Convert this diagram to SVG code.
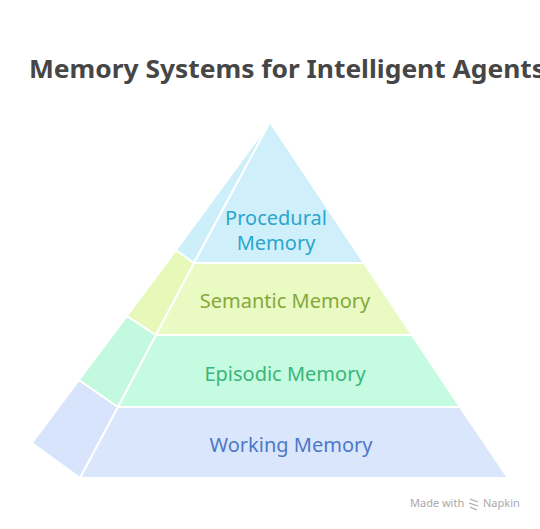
<svg xmlns="http://www.w3.org/2000/svg" width="540" height="529" viewBox="0 0 540 529">
<style>
.face{stroke:#ffffff;stroke-width:2;stroke-linejoin:round}
.lbl{font-family:"Noto Sans","Open Sans",sans-serif;font-size:20px;text-anchor:middle}
.title{font-family:"Noto Sans","Liberation Sans",sans-serif;font-weight:bold;font-size:25px;fill:#464646}
.wm{font-family:"Noto Sans","Liberation Sans",sans-serif;font-size:11px;fill:#a8a8a8}
</style>
<rect width="540" height="529" fill="#ffffff"/>
<text class="title" x="29" y="78" textLength="516" lengthAdjust="spacingAndGlyphs">Memory Systems for Intelligent Agents</text>
<g id="working">
<polygon class="face" points="79,380 118,407 80,478 32,443" fill="#d8e4fb"/>
<polygon class="face" points="118,407 460,407 508,478 80,478" fill="#dae6fc"/>
<text class="lbl" x="291" y="452" fill="#4c78c8">Working Memory</text>
</g>
<g id="episodic">
<polygon class="face" points="127,316 156,335 118,407 79,380" fill="#c3f9de"/>
<polygon class="face" points="156,335 412,335 460,407 118,407" fill="#c5fbe0"/>
<text class="lbl" x="285" y="381" fill="#3bb57a">Episodic Memory</text>
</g>
<g id="semantic">
<polygon class="face" points="176,250 194,263 156,335 127,316" fill="#e6f9b9"/>
<polygon class="face" points="194,263 364,263 412,335 156,335" fill="#e9fac3"/>
<text class="lbl" x="285" y="308" fill="#86a83a">Semantic Memory</text>
</g>
<g id="procedural">
<polygon class="face" points="270,122 194,263 176,250" fill="#cdeffa"/>
<polygon class="face" points="270,122 364,263 194,263" fill="#cff0fb"/>
<text class="lbl" fill="#2aa5cc"><tspan x="276" y="225">Procedural</tspan><tspan x="276" y="250">Memory</tspan></text>
</g>
<g id="connectors"></g>
<g id="watermark">
<text class="wm" x="410" y="507">Made with</text>
<path d="M470,499 l8,3 M469,503 l9,3 M470,507 l7,3" stroke="#a8a8a8" stroke-width="1.3" fill="none"/>
<text class="wm" x="483" y="507">Napkin</text>
</g>
</svg>
